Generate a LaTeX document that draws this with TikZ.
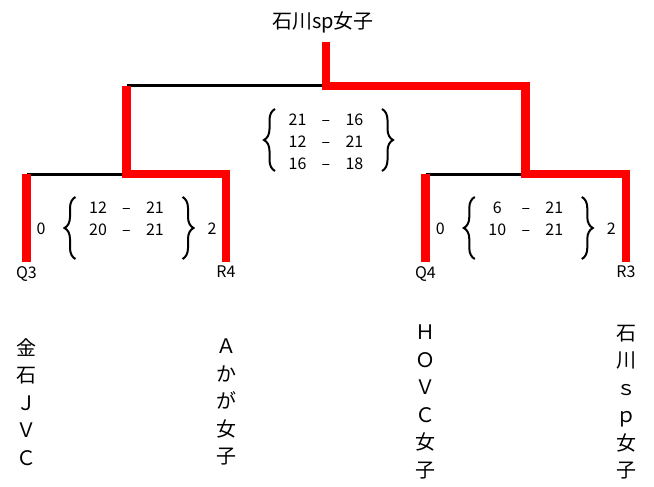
\documentclass[tikz,border=0pt]{standalone}
\usepackage{fontspec}
\usepackage{array}
\newfontfamily\jpfont{Noto Sans CJK JP}
\newcolumntype{C}[1]{>{\centering\arraybackslash}p{#1}}
\usetikzlibrary{positioning, calc, decorations.pathreplacing}

\begin{document}
\begin{tikzpicture}[
        x=1pt, y=-1pt,
        winline/.style={draw=red, line width=8.5pt, line join=miter},
        loseline/.style={draw=black, line width=3pt},
        title/.style={font=\jpfont\fontsize{20}{24}\selectfont, inner sep=0pt},
        team/.style={font=\jpfont\fontsize{20}{27.5}\selectfont, align=center, inner sep=0pt},
        seed/.style={font=\jpfont\fontsize{16}{18}\selectfont, inner sep=0pt},
        score/.style={font=\jpfont\fontsize{16}{18}\selectfont, inner sep=0pt},
        game/.style={font=\jpfont\fontsize{16}{22}\selectfont, inner sep=0pt},
        lbrace/.style={decorate, decoration={brace, amplitude=11pt}, line width=2pt},
        rbrace/.style={lbrace}
    ]
    \useasboundingbox (0,0) rectangle (654,487);

    % Bracket points
    \coordinate (top) at (326,42);
    \coordinate (m1) at (126.5,86);
    \coordinate (m2) at (525.5,86);
    \coordinate (s1) at (126.5,174);
    \coordinate (s2) at (525.5,174);
    \coordinate (l1) at (26.5,262);
    \coordinate (l2) at (226,262);
    \coordinate (l3) at (425.5,262);
    \coordinate (l4) at (626,262);

    % Nodes
    \node[title] (champ) at (323,22) {石川sp女子};

    \node[seed, below=4pt of l1] (q3) {Q3};
    \node[seed, below=4pt of l2] (r4) {R4};
    \node[seed, below=4pt of l3] (q4) {Q4};
    \node[seed, below=4pt of l4] (r3) {R3};

    \node[team] (kanaishi) at (26.5,402) {金\\石\\Ｊ\\Ｖ\\Ｃ};
    \node[team] (akaga) at (226,402) {Ａ\\か\\が\\女\\子};
    \node[team] (hovc) at (425.5,402) {Ｈ\\Ｏ\\Ｖ\\Ｃ\\女\\子};
    \node[team] (ishikawa) at (626,402) {石\\川\\ｓ\\ｐ\\女\\子};

    % Games
    \node[game] (g1) at (126.5,231) {\begin{tabular}{@{}C{20pt}@{}C{37pt}@{}C{20pt}@{}}
        12 & – & 21\\ 20 & – & 21\\ & & \end{tabular}};
    \node[game] (g2) at (326,143) {\begin{tabular}{@{}C{20pt}@{}C{37pt}@{}C{20pt}@{}}
        21 & – & 16\\ 12 & – & 21\\ 16 & – & 18\end{tabular}};
    \node[game] (g3) at (525.8,231) {\begin{tabular}{@{}C{20pt}@{}C{37pt}@{}C{20pt}@{}}
        6 & – & 21\\ 10 & – & 21\\ & & \end{tabular}};

    \node[score] (g1a) at ($(g1)+(-85.5,-2)$) {0};
    \node[score] (g1b) at ($(g1)+(85.5,-2)$) {2};
    \node[score] (g3a) at ($(g3)+(-85.5,-2)$) {0};
    \node[score] (g3b) at ($(g3)+(85.5,-2)$) {2};

    \foreach \g in {g1,g2,g3} {
        \draw[lbrace] ($(\g)+(-51,28)$) -- ($(\g)+(-51,-34)$);
        \draw[rbrace] ($(\g)+(56,-34)$) -- ($(\g)+(56,28)$);
    }

    % Connections
    \draw[loseline] (m1) -- (top |- m1);
    \draw[loseline] (l1 |- s1) -- (s1);
    \draw[loseline] (l3 |- s2) -- (s2);
    \draw[winline] (top) |- (m2) -- (s2) -| (l4);
    \draw[winline] (m1) -- (s1) -| (l2);
    \draw[winline] (l1) -- (l1 |- s1);
    \draw[winline] (l3) -- (l3 |- s2);

\end{tikzpicture}
\end{document}
